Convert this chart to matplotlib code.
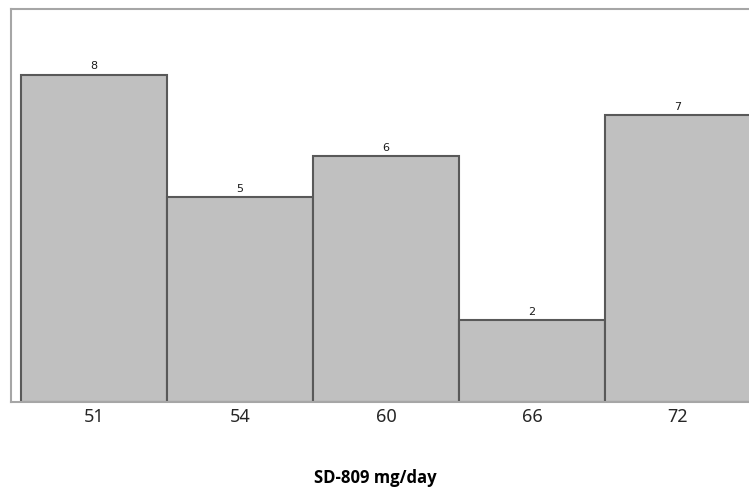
import matplotlib
matplotlib.use('Agg')
import matplotlib.pyplot as plt

# dose groups and patient counts
doses = ['51', '54', '60', '66', '72']
counts = [8, 5, 6, 2, 7]

fig = plt.figure(figsize=(7.49, 4.99), dpi=100)
W, H = 749, 499
ax = fig.add_axes([11 / W, 1 - 402 / H, 750 / W, 393 / H])

pos = list(range(len(doses)))
bars = ax.bar(pos, counts, width=1.0, color='#c0c0c0',
              edgecolor='#595959', linewidth=1.5, zorder=2)

for b, v in zip(bars, counts):
    ax.text(b.get_x() + b.get_width() / 2, v + 0.08, str(v),
            ha='center', va='bottom', fontsize=8, color='#1a1a1a',
            family='DejaVu Sans')

ax.set_xlim(-0.568, 4.568)
ax.set_ylim(0, 9.6)
ax.set_yticks([])
ax.set_xticks(pos)
ax.set_xticklabels(doses, fontsize=13, family='Noto Sans', color='#262626')
ax.tick_params(axis='x', length=0, pad=4)

for side in ['left', 'top', 'bottom']:
    ax.spines[side].set_color('#a6a6a6')
    ax.spines[side].set_linewidth(1.5)
ax.spines['right'].set_visible(False)

fig.text(375 / W, 1 - 478 / H, 'SD-809 mg/day', ha='center', va='center',
         fontsize=12, fontweight='bold', family='Open Sans')

fig.savefig('out.png', dpi=100)
